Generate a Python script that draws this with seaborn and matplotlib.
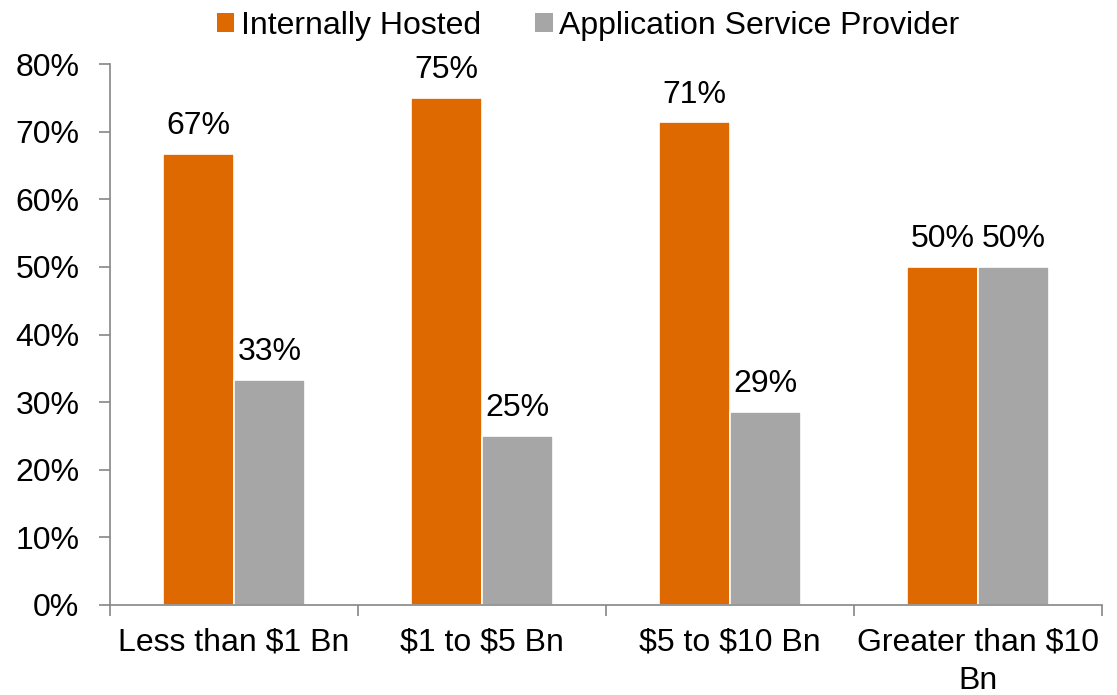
import pandas as pd
import matplotlib.pyplot as plt
import seaborn as sns
from matplotlib.patches import Patch

# data
categories = ['Less than \\$1 Bn', '\\$1 to \\$5 Bn', '\\$5 to \\$10 Bn', 'Greater than \\$10\nBn']
internally_hosted = [0.667, 0.75, 0.714, 0.50]
app_service_provider = [0.333, 0.25, 0.286, 0.50]
series_names = ['Internally Hosted', 'Application Service Provider']
colors = ['#DD6900', '#A6A6A6']
y_ticks = [0, 0.1, 0.2, 0.3, 0.4, 0.5, 0.6, 0.7, 0.8]

df = pd.DataFrame({
    'category': categories * 2,
    'series': [series_names[0]] * 4 + [series_names[1]] * 4,
    'value': internally_hosted + app_service_provider,
})

sns.set_style('white')
plt.rcParams['font.family'] = ['Liberation Sans', 'DejaVu Sans']
plt.rcParams['text.color'] = 'black'
axis_color = '#868686'
fs = 23

fig = plt.figure(figsize=(11.17, 6.95), dpi=100)
ax = fig.add_axes([0.0985, 0.1295, 0.888, 0.7784])

sns.barplot(data=df, x='category', y='value', hue='series', order=categories,
            hue_order=series_names, palette=colors, width=0.57, dodge=True,
            edgecolor='white', linewidth=1.2, saturation=1, legend=False, ax=ax)

# value labels
for container in ax.containers:
    ax.bar_label(container, labels=[f'{v.get_height():.0%}' for v in container],
                 padding=9, fontsize=fs, color='black')

ax.set_xlim(-0.5, 3.5)
ax.set_ylim(0, 0.8)
ax.set_yticks(y_ticks)
ax.set_yticklabels([f'{t:.0%}' for t in y_ticks], fontsize=fs, color='black')
ax.set_xlabel('')
ax.set_ylabel('')

# category boundary ticks on x
ax.set_xticks(range(len(categories)))
ax.set_xticklabels(categories, fontsize=fs, color='black', linespacing=1.4)
ax.set_xticks([i - 0.5 for i in range(len(categories) + 1)], minor=True)
ax.tick_params(axis='x', which='major', bottom=True, length=0, pad=16)
ax.tick_params(axis='x', which='minor', bottom=True, length=8, width=1.2,
               color=axis_color, direction='out')
ax.tick_params(axis='y', left=True, length=8, width=1.2, color=axis_color,
               direction='out', pad=14)

sns.despine(ax=ax)
for s in ['left', 'bottom']:
    ax.spines[s].set_color(axis_color)
    ax.spines[s].set_linewidth(1.2)

handles = [Patch(facecolor=c, edgecolor='none') for c in colors]
leg = ax.legend(handles, series_names, loc='center', bbox_to_anchor=(0.482, 1.07), ncol=2,
                frameon=False, fontsize=fs, handlelength=0.55, handleheight=0.55,
                handletextpad=0.2, columnspacing=1.7)
for t in leg.get_texts():
    t.set_color('black')

fig.savefig('out.png', dpi=100)
